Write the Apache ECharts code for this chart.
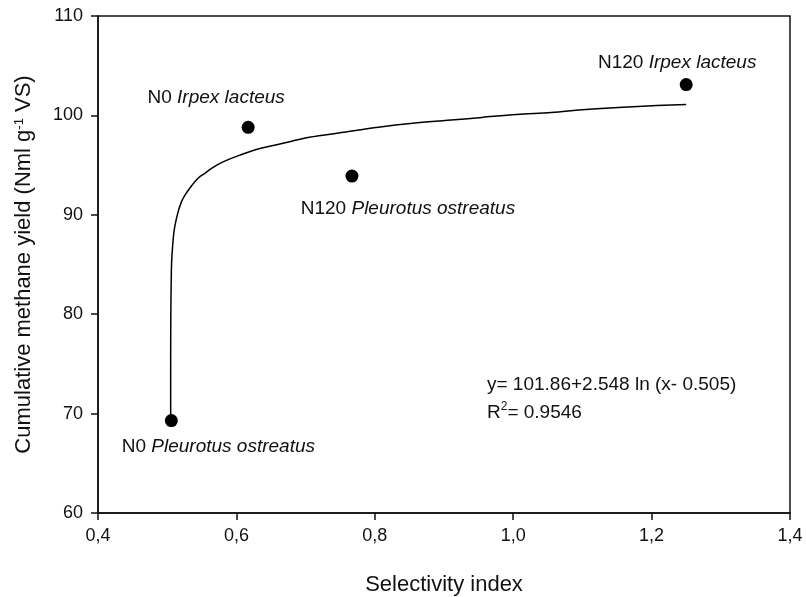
<!DOCTYPE html>
<html>
<head>
<meta charset="utf-8">
<script src="https://cdn.jsdelivr.net/npm/echarts@6.0.0/dist/echarts.min.js"></script>
<style>
  html, body { margin: 0; padding: 0; background: #fff; }
  #chart { width: 806px; height: 597px; }
</style>
</head>
<body>
<div id="chart"></div>
<script>
// 样本点
const pointNames = ["N0 Pleurotus ostreatus", "N0 Irpex lacteus", "N120 Pleurotus ostreatus", "N120 Irpex lacteus"];
const pointX = [0.506, 0.617, 0.767, 1.25];
const pointY = [69.3, 98.8, 93.9, 103.1];

// 拟合曲线（沿图中曲线读取的点）
const curveX = [0.505003, 0.50501, 0.5051, 0.506, 0.507, 0.51, 0.515, 0.52, 0.525, 0.535, 0.545, 0.555, 0.567, 0.58, 0.605, 0.63, 0.655, 0.68, 0.705, 0.755, 0.805, 0.855, 0.905, 0.955, 1.005, 1.055, 1.105, 1.18, 1.25];
const curveY = [69.4, 72.5, 78.4, 84.3, 86.0, 88.4, 90.1, 91.2, 91.9, 92.9, 93.7, 94.2, 94.8, 95.3, 96.0, 96.6, 97.0, 97.4, 97.8, 98.3, 98.8, 99.2, 99.5, 99.8, 100.1, 100.3, 100.6, 100.9, 101.1];

// 刻度标签
const xTickLabels = ["0,4", "0,6", "0,8", "1,0", "1,2", "1,4"];
const yTickLabels = ["60", "70", "80", "90", "100", "110"];

// 标签偏移（像素）
const labelOffsets = [[47, 26], [-32, -30], [56, 33], [-9, -22]];

const font = "Liberation Sans";

const chart = echarts.init(document.getElementById("chart"));
chart.setOption({
    animation: false,
    textStyle: { fontFamily: font },
    grid: {
        left: 98,
        right: 16,
        top: 16,
        bottom: 84,
        outerBoundsMode: "none",
        containLabel: false,
        show: true,
        borderColor: "#111",
        borderWidth: 1.5,
        backgroundColor: "transparent",
    },
    xAxis: {
        type: "value",
        min: 0.4,
        max: 1.4,
        interval: 0.2,
        name: "Selectivity index",
        nameLocation: "middle",
        nameGap: 61,
        nameTextStyle: { fontSize: 22, color: "#111", fontFamily: font },
        axisLine: { onZero: false, lineStyle: { color: "#111", width: 1.5 } },
        axisTick: { show: true, length: 7, lineStyle: { color: "#111", width: 1.5 } },
        axisLabel: {
            margin: 14,
            fontSize: 18,
            color: "#111",
            fontFamily: font,
            formatter: (v) => xTickLabels[Math.round((v - 0.4) / 0.2)],
        },
        splitLine: { show: false },
    },
    yAxis: {
        type: "value",
        min: 60,
        max: 110,
        interval: 10,
        name: "{t|Cumulative methane yield (Nml g}{s|-1}{t| VS)}",
        nameLocation: "middle",
        nameGap: 63,
        nameRotate: 90,
        nameTextStyle: {
            color: "#111",
            fontFamily: font,
            rich: {
                t: { fontSize: 22, color: "#111", fontFamily: font },
                s: { fontSize: 13, color: "#111", fontFamily: font, verticalAlign: "top", lineHeight: 22 },
            },
        },
        axisLine: { onZero: false, lineStyle: { color: "#111", width: 1.5 } },
        axisTick: { show: true, length: 7, lineStyle: { color: "#111", width: 1.5 } },
        axisLabel: {
            margin: 15,
            fontSize: 18,
            color: "#111",
            fontFamily: font,
            formatter: (v) => yTickLabels[Math.round((v - 60) / 10)],
        },
        splitLine: { show: false },
    },
    series: [
        {
            type: "line",
            data: curveX.map((x, i) => [x, curveY[i]]),
            showSymbol: false,
            smooth: 0.35,
            lineStyle: { color: "#000", width: 1.5 },
            z: 2,
        },
        {
            type: "scatter",
            symbolSize: 13,
            itemStyle: { color: "#000", opacity: 1 },
            z: 3,
            data: pointNames.map((name, i) => {
                const parts = name.split(" ");
                const prefix = parts.shift();
                return {
                    name: name,
                    value: [pointX[i], pointY[i]],
                    label: {
                        show: true,
                        position: "inside",
                        offset: labelOffsets[i],
                        align: "center",
                        verticalAlign: "middle",
                        formatter: `{n|${prefix} }{i|${parts.join(" ")}}`,
                        rich: {
                            n: { fontSize: 19, color: "#111", fontFamily: font },
                            i: { fontSize: 19, color: "#111", fontFamily: font, fontStyle: "italic" },
                        },
                    },
                };
            }),
        },
    ],
    graphic: [
        {
            type: "text",
            left: 487,
            top: 375,
            style: {
                text: "y= 101.86+2.548 ln (x- 0.505)",
                font: `19px "${font}"`,
                fill: "#111",
            },
        },
        {
            type: "text",
            left: 487,
            top: 401,
            style: {
                text: "{t|R}{s|2}{t|= 0.9546}",
                fill: "#111",
                rich: {
                    t: { fontSize: 19, fontFamily: font, fill: "#111", lineHeight: 24 },
                    s: { fontSize: 12, fontFamily: font, fill: "#111", verticalAlign: "top", lineHeight: 24 },
                },
            },
        },
    ],
});
</script>
</body>
</html>
